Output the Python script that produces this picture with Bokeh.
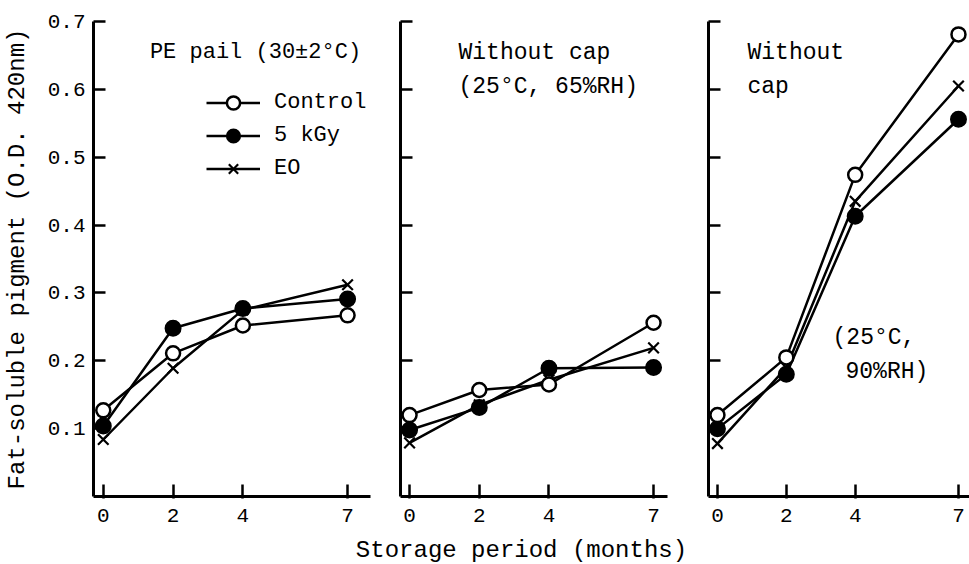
from bokeh.plotting import figure
from bokeh.layouts import row, column
from bokeh.models import (Range1d, FixedTicker, Label, Legend, LegendItem,
                          CustomLabelingPolicy)
from bokeh.embed import file_html
from bokeh.resources import INLINE

# ---------------- data ----------------
months = [0, 2, 4, 7]
month_labels = ["0", "2", "4", "7"]
y_ticks = [0.1, 0.2, 0.3, 0.4, 0.5, 0.6, 0.7]
y_tick_labels = ["0.1", "0.2", "0.3", "0.4", "0.5", "0.6", "0.7"]
series_names = ["Control", "5 kGy", "EO"]

# Panel 1: PE pail (30±2°C)
pe_control = [0.127, 0.211, 0.252, 0.267]
pe_5kgy = [0.104, 0.248, 0.277, 0.291]
pe_eo = [0.084, 0.189, 0.275, 0.312]

# Panel 2: Without cap (25°C, 65%RH)
rh65_control = [0.120, 0.157, 0.165, 0.256]
rh65_5kgy = [0.098, 0.131, 0.189, 0.190]
rh65_eo = [0.079, 0.135, 0.172, 0.219]

# Panel 3: Without cap (25°C, 90%RH)
rh90_control = [0.120, 0.205, 0.474, 0.681]
rh90_5kgy = [0.100, 0.180, 0.413, 0.556]
rh90_eo = [0.078, 0.190, 0.435, 0.605]

title_pe = "PE pail (30±2°C)"
title_65 = ["Without cap", "(25°C, 65%RH)"]
title_90 = ["Without", "cap", "(25°C,", "90%RH)"]
x_title = "Storage period (months)"
y_title = "Fat-soluble pigment (O.D. 420nm)"

FONT = "Liberation Mono"
ROW_H = 535

hide_labels = CustomLabelingPolicy(code="""
    for (const i of Array.from(indices)) indices.unset(i)
    return indices
""")


def make_panel(width, bl, br, xs, xe, with_ylabels):
    p = figure(width=width, height=ROW_H, x_range=Range1d(xs, xe),
               y_range=Range1d(0, 0.7), output_backend="svg",
               toolbar_location=None, min_border_left=bl, min_border_right=br,
               min_border_top=21, min_border_bottom=39)
    p.outline_line_color = None
    p.grid.visible = False
    p.background_fill_color = "white"
    p.border_fill_color = "white"

    xa = p.xaxis[0]
    xa.ticker = FixedTicker(ticks=months)
    xa.major_label_overrides = {m: l for m, l in zip(months, month_labels)}
    xa.major_tick_in = 12
    xa.major_tick_out = 2
    xa.minor_tick_line_color = None
    xa.axis_line_width = 3
    xa.major_tick_line_width = 2.5
    xa.major_label_standoff = 10
    xa.major_label_text_font = FONT
    xa.major_label_text_font_size = "21px"
    xa.major_label_text_color = "black"

    ya = p.yaxis[0]
    ya.ticker = FixedTicker(ticks=y_ticks)
    ya.major_tick_in = 12
    ya.major_tick_out = 0
    ya.minor_tick_line_color = None
    ya.axis_line_width = 3
    ya.major_tick_line_width = 2.5
    ya.major_label_text_font = FONT
    ya.major_label_text_color = "black"
    if with_ylabels:
        ya.major_label_text_font_size = "21px"
        ya.major_label_overrides = {t: l for t, l in zip(y_ticks, y_tick_labels)}
        ya.major_label_standoff = 8
        ya.axis_label = y_title
        ya.axis_label_text_font = FONT
        ya.axis_label_text_font_size = "24px"
        ya.axis_label_text_font_style = "normal"
        ya.axis_label_text_color = "black"
        ya.axis_label_standoff = 14
    else:
        ya.major_label_text_font_size = "0px"
        ya.major_label_policy = hide_labels
        ya.major_label_standoff = 0
    return p


def draw_series(p, control, kgy, eo):
    lc = p.line(months, control, line_color="black", line_width=2.5)
    lk = p.line(months, kgy, line_color="black", line_width=2.5)
    le = p.line(months, eo, line_color="black", line_width=2.5)
    se = p.scatter(months, eo, marker="x", size=15, line_color="black", line_width=2.2)
    sk = p.scatter(months, kgy, marker="circle", size=15, fill_color="black",
                   line_color="black", line_width=2)
    sc = p.scatter(months, control, marker="circle", size=14, fill_color="white",
                   line_color="black", line_width=2.5)
    return [(lc, sc), (lk, sk), (le, se)]


def add_text(p, x, y, txt, size="23px"):
    p.add_layout(Label(x=x, y=y, text=txt, text_font=FONT, text_font_size=size,
                       text_align="left", text_baseline="middle", text_color="black"))


# Panel 1
p1 = make_panel(380, 90, 10, -0.28, 7.657, True)
r1 = draw_series(p1, pe_control, pe_5kgy, pe_eo)
add_text(p1, 1.336, 0.654, title_pe, "22px")
legend = Legend(items=[LegendItem(label=n, renderers=list(r)) for n, r in zip(series_names, r1)],
                location=(113, 311), orientation="vertical", glyph_width=54,
                glyph_height=33, label_height=33, label_standoff=14, spacing=0,
                padding=0, margin=0, border_line_color=None, background_fill_alpha=0,
                label_text_font=FONT, label_text_font_size="22px",
                label_text_baseline="middle", label_text_color="black")
p1.add_layout(legend)

# Panel 2
p2 = make_panel(310, 20, 23, -0.26, 7.40, False)
draw_series(p2, rh65_control, rh65_5kgy, rh65_eo)
add_text(p2, 1.404, 0.654, title_65[0])
add_text(p2, 1.404, 0.604, title_65[1])

# Panel 3
p3 = make_panel(279, 18, 0, -0.26, 7.32, False)
draw_series(p3, rh90_control, rh90_5kgy, rh90_eo)
add_text(p3, 0.873, 0.653, title_90[0])
add_text(p3, 0.873, 0.603, title_90[1])
add_text(p3, 3.342, 0.233, title_90[2])
add_text(p3, 3.719, 0.183, title_90[3])

# Strip with the shared x-axis title
strip = figure(width=969, height=564 - ROW_H, x_range=Range1d(0, 969),
               y_range=Range1d(0, 564 - ROW_H), x_axis_type=None, y_axis_type=None,
               output_backend="svg", toolbar_location=None, min_border=0)
strip.outline_line_color = None
strip.grid.visible = False
strip.add_layout(Label(x=521, y=14, text=x_title, text_font=FONT, text_font_size="24px",
                       text_align="center", text_baseline="middle", text_color="black"))

layout = column(row(p1, p2, p3), strip)
open("out.html", "w").write(file_html(layout, INLINE))
